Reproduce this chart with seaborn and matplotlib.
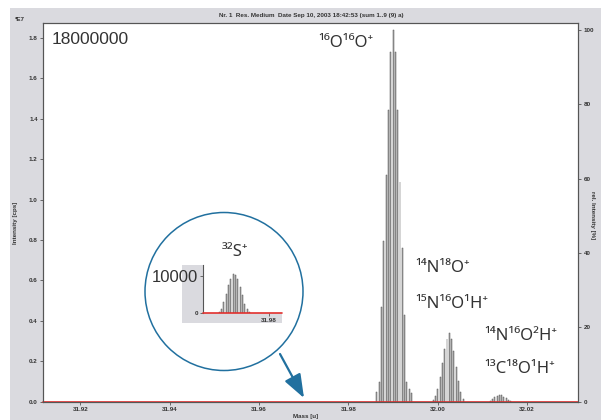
import numpy as np
import pandas as pd
import matplotlib
matplotlib.use("Agg")
import matplotlib.pyplot as plt
from matplotlib.patches import Rectangle, Ellipse, FancyArrowPatch
import seaborn as sns

# ---- spectrum data: mass [u] and intensity [1E7 cps] ----
mass_o2 = [31.98636, 31.98688, 31.98740, 31.98792, 31.98844, 31.98896, 31.98948, 31.99000,
           31.99052, 31.99104, 31.99156, 31.99208, 31.99260, 31.99312, 31.99364, 31.99416]
int_o2 = [0.049, 0.098, 0.469, 0.795, 1.121, 1.443, 1.732, 1.839,
          1.732, 1.443, 1.088, 0.761, 0.428, 0.098, 0.063, 0.044]

mass_no = [31.99896, 31.99948, 32.00000, 32.00052, 32.00104, 32.00156, 32.00208,
           32.00260, 32.00312, 32.00364, 32.00416, 32.00468, 32.00520, 32.00572]
int_no = [0.008, 0.025, 0.060, 0.120, 0.190, 0.260, 0.310,
          0.338, 0.310, 0.250, 0.170, 0.100, 0.045, 0.012]

mass_noh = [32.01172, 32.01224, 32.01276, 32.01328, 32.01380,
            32.01432, 32.01484, 32.01536, 32.01588, 32.01640]
int_noh = [0.004, 0.012, 0.022, 0.029, 0.033, 0.031, 0.024, 0.015, 0.007, 0.003]

# 32S+ detail, intensity in cps
mass_s = [31.96880, 31.96932, 31.96984, 31.97036, 31.97088, 31.97140, 31.97192,
          31.97244, 31.97296, 31.97348, 31.97400, 31.97452, 31.97504, 31.97556]
int_s = [350, 1230, 3030, 5250, 7500, 9280, 10600,
         10350, 9280, 7050, 4830, 2570, 1230, 350]

x_ticks = [31.92, 31.94, 31.96, 31.98, 32.00, 32.02]
x_labels = ["31.92", "31.94", "31.96", "31.98", "32.00", "32.02"]
y_ticks = [0.0, 0.2, 0.4, 0.6, 0.8, 1.0, 1.2, 1.4, 1.6, 1.8]
y_labels = ["0.0", "0.2", "0.4", "0.6", "0.8", "1.0", "1.2", "1.4", "1.6", "1.8"]
rel_ticks = [0, 20, 40, 60, 80, 100]
inset_yticks = [0, 10000]
inset_ylabels = ["0", "10000"]
inset_xticks = [31.98]
inset_xlabels = ["31.98"]

title = "Nr. 1  Res. Medium  Date Sep 10, 2003 18:42:53 (sum 1..9 (9) a)"
ion_labels = ["¹⁶O¹⁶O⁺", "¹⁴N¹⁸O⁺", "¹⁵N¹⁶O¹H⁺", "¹⁴N¹⁶O²H⁺", "¹³C¹⁸O¹H⁺", "³²S⁺"]

sns.set_theme(style="ticks")
plt.rcParams["font.family"] = ["Liberation Sans", "DejaVu Sans"]

W_PX, H_PX = 601, 420
fig = plt.figure(figsize=(W_PX / 100, H_PX / 100), dpi=100)


def fx(x):
    return x / W_PX


def fy(y):
    return 1 - y / H_PX


def box(l, t, r, b):
    return [fx(l), fy(b), fx(r) - fx(l), fy(t) - fy(b)]


PANEL = "#dadadf"
SPINE = "#555555"
TXT = "#333333"
RED = "#e2302e"
BLUE = "#21709f"
BAR_FACE = "#b3b3b3"
BAR_EDGE = "#555555"
TICK_FS = 4.5

# instrument-window grey panel
fig.patches.append(Rectangle((fx(10), 0), 1 - fx(10), fy(8), transform=fig.transFigure,
                             facecolor=PANEL, edgecolor="none", zorder=-5))

# ---- main spectrum ----
ax = fig.add_axes(box(43.3, 23.3, 578.4, 401.5))
ax.set_facecolor("white")
spec = pd.DataFrame({
    "mass": mass_o2 + mass_no + mass_noh,
    "intensity": int_o2 + int_no + int_noh,
})
sns.barplot(data=spec, x="mass", y="intensity", native_scale=True, width=0.42,
            color=BAR_FACE, saturation=1, edgecolor=BAR_EDGE, linewidth=0.35,
            errorbar=None, ax=ax)
ax.axhline(0, color=RED, lw=1.2, zorder=5, clip_on=False)

xmin, xmax = 31.9117, 32.0315
ymax = 1.8728
ax.set_xlim(xmin, xmax)
ax.set_ylim(0, ymax)
ax.set_xticks(x_ticks, x_labels)
ax.set_yticks(y_ticks, y_labels)
ax.set_xlabel("")
ax.set_ylabel("")
for s in ax.spines.values():
    s.set_color(SPINE)
    s.set_linewidth(0.8)
ax.tick_params(axis="both", direction="out", length=2.5, width=0.6, color=SPINE,
               labelsize=TICK_FS, labelcolor=TXT, pad=1.5)
for lab in ax.get_xticklabels() + ax.get_yticklabels():
    lab.set_fontweight("bold")

# relative intensity axis, 100 % = strongest line
peak_max = max(int_o2 + int_no + int_noh)
ax2 = ax.twinx()
ax2.set_ylim(0, 100 * ymax / peak_max)
ax2.set_yticks(rel_ticks, [str(v) for v in rel_ticks])
ax2.tick_params(axis="y", direction="out", length=2.5, width=0.6, color=SPINE,
                labelsize=TICK_FS, labelcolor=TXT, pad=1.5)
for lab in ax2.get_yticklabels():
    lab.set_fontweight("bold")
for s in ax2.spines.values():
    s.set_color(SPINE)
    s.set_linewidth(0.8)

# ---- overlay: magnifier circle and arrow ----
ov = fig.add_axes([0, 0, 1, 1], zorder=2)
ov.set_xlim(0, W_PX)
ov.set_ylim(H_PX, 0)
ov.axis("off")
ov.patch.set_visible(False)
cx, cy, rad = 224.0, 291.5, 79.0
ov.add_patch(Ellipse((cx, cy), 2 * rad, 2 * rad, facecolor="white", edgecolor=BLUE, lw=1.1))
ov.add_patch(Rectangle((181.7, 265.0), 100.0, 58.0, facecolor=PANEL, edgecolor="none"))
ov.add_patch(FancyArrowPatch((280, 354), (304, 398), arrowstyle="-|>,head_length=1.2,head_width=0.45",
                             mutation_scale=12, color=BLUE, lw=1.6, shrinkA=0, shrinkB=0))

# ---- inset: 32S+ ----
ins = fig.add_axes(box(203.3, 265.0, 281.7, 313.3), zorder=3)
ins.set_facecolor("white")
sdf = pd.DataFrame({"mass": mass_s, "intensity": int_s})
sns.barplot(data=sdf, x="mass", y="intensity", native_scale=True, width=0.42,
            color=BAR_FACE, saturation=1, edgecolor=BAR_EDGE, linewidth=0.35,
            errorbar=None, ax=ins)
ins.axhline(0, color=RED, lw=1.2, zorder=5, clip_on=False)
ins.set_xlim(31.96523, 31.98278)
ins.set_ylim(0, 12950)
ins.set_xticks(inset_xticks, inset_xlabels)
ins.set_yticks(inset_yticks, inset_ylabels)
ins.set_xlabel("")
ins.set_ylabel("")
for side in ["top", "right", "bottom"]:
    ins.spines[side].set_visible(False)
ins.spines["left"].set_color(SPINE)
ins.spines["left"].set_linewidth(0.8)
ins.tick_params(axis="both", direction="out", length=2, width=0.6, color=SPINE,
                labelsize=TICK_FS, labelcolor=TXT, pad=1.5)
for lab in ins.get_xticklabels():
    lab.set_fontweight("bold")
ylabs = ins.get_yticklabels()
ylabs[0].set_fontweight("bold")
ylabs[1].set_fontsize(12)
ylabs[1].set_color(TXT)

# ---- texts ----
top = fig.add_axes([0, 0, 1, 1], zorder=5)
top.set_xlim(0, W_PX)
top.set_ylim(H_PX, 0)
top.axis("off")
top.patch.set_visible(False)

small = dict(fontsize=TICK_FS, fontweight="bold", color=TXT)
top.text(311.5, 15.7, title, ha="center", va="center", **small)
top.text(20, 19.5, "*E7", ha="center", va="center", **small)
top.text(15, 223, "Intensity [cps]", ha="center", va="center", rotation=90, **small)
top.text(593, 215, "rel. Intensity [%]", ha="center", va="center", rotation=-90, **small)
top.text(306, 416.5, "Mass [u]", ha="center", va="center", **small)

top.text(52, 40, "18000000", color=TXT, ha="left", va="center", fontsize=12.5)
ion = dict(color=TXT, ha="left", va="center", fontsize=12, family=["Noto Sans", "DejaVu Sans"])
top.text(318, 43, ion_labels[0], **ion)
top.text(415, 268, ion_labels[1], **ion)
top.text(415, 304, ion_labels[2], **ion)
top.text(484, 336, ion_labels[3], **ion)
top.text(484, 369, ion_labels[4], **ion)
top.text(222, 252, ion_labels[5], **ion)

fig.savefig("out.png", dpi=100)
